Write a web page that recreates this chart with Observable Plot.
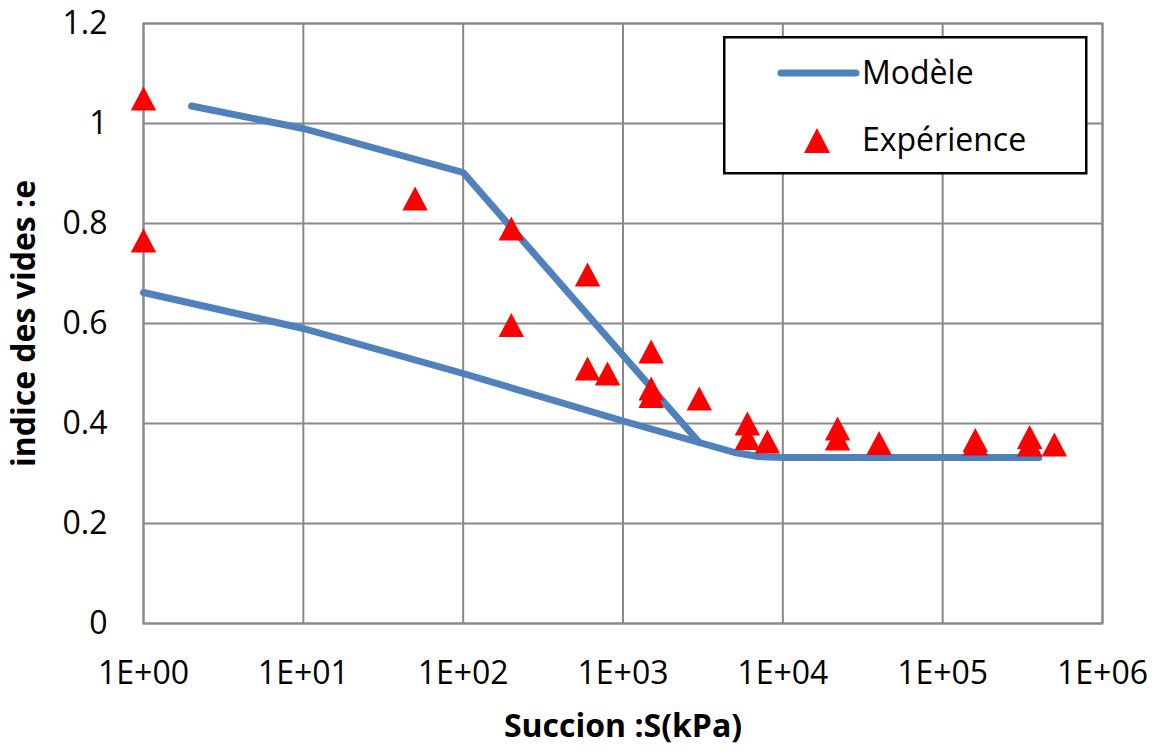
<!DOCTYPE html>
<html><head><meta charset="utf-8">
<script src="https://cdn.jsdelivr.net/npm/d3@7"></script>
<script src="https://cdn.jsdelivr.net/npm/@observablehq/plot@0.6"></script>
<style>
body{margin:0;background:#fff;}
#wrap{position:relative;width:1158px;height:751px;background:#fff;}
g[aria-label="x-axis label"] text, g[aria-label="y-axis label"] text{font-weight:bold;}
#legend{position:absolute;left:723px;top:36px;}
</style></head>
<body><div id="wrap"></div>
<script>
// Model (Modèle) – two branches
const modelUpperS = [2, 10, 100, 3000];
const modelUpperE = [1.035, 0.99, 0.902, 0.362];
const modelLowerS = [1, 10, 100, 1000, 3000, 5000, 7000, 10000, 400000];
const modelLowerE = [0.662, 0.59, 0.50, 0.405, 0.362, 0.342, 0.334, 0.332, 0.332];
// Experiment (Expérience)
const expS = [1, 1, 50, 200, 200, 600, 600, 800, 1500, 1500, 1500, 3000, 6000, 6000, 8000, 22000, 22000, 40000, 160000, 160000, 350000, 350000, 500000];
const expE = [1.05, 0.766, 0.85, 0.79, 0.597, 0.698, 0.51, 0.50, 0.544, 0.47, 0.455, 0.45, 0.40, 0.371, 0.364, 0.39, 0.37, 0.361, 0.367, 0.36, 0.373, 0.358, 0.358];
// Ticks
const xTicks = [1, 10, 100, 1000, 10000, 100000, 1000000];
const yTicks = [0, 0.2, 0.4, 0.6, 0.8, 1, 1.2];
const seriesNames = ["Modèle", "Expérience"];

const modelData = [
  ...modelUpperS.map((s, i) => ({S: s, e: modelUpperE[i], branch: "upper"})),
  ...modelLowerS.map((s, i) => ({S: s, e: modelLowerE[i], branch: "lower"}))
];
const expData = expS.map((s, i) => ({S: s, e: expE[i]}));

const tri = {
  draw(ctx, size) {
    const h = 2.4 * Math.sqrt(size / Math.PI);
    const w = h * 1.06;
    ctx.moveTo(0, -h / 2);
    ctx.lineTo(w / 2, h / 2);
    ctx.lineTo(-w / 2, h / 2);
    ctx.closePath();
  }
};

const blue = "#4F81BD";
const grid = "#898989";

const chart = Plot.plot({
  width: 1158,
  height: 751,
  marginLeft: 143,
  marginTop: 23,
  marginRight: 56,
  marginBottom: 128,
  style: {fontFamily: "'Open Sans', sans-serif", fontSize: "32px", color: "#000", background: "#fff"},
  x: {type: "log", domain: [1, 1e6]},
  y: {domain: [0, 1.2]},
  marks: [
    Plot.gridX(xTicks, {stroke: grid, strokeOpacity: 1, strokeWidth: 2}),
    Plot.gridY(yTicks, {stroke: grid, strokeOpacity: 1, strokeWidth: 2}),
    Plot.frame({stroke: grid, strokeWidth: 2}),
    Plot.axisX(xTicks, {
      tickSize: 0, tickPadding: 38,
      tickFormat: d => "1E+" + String(Math.round(Math.log10(d))).padStart(2, "0"),
      label: "Succion :S(kPa)", labelAnchor: "center", labelArrow: "none", labelOffset: 113
    }),
    Plot.axisY(yTicks, {
      tickSize: 0, tickPadding: 36,
      tickFormat: d => String(d),
      label: "indice des vides :e", labelAnchor: "center", labelArrow: "none", labelOffset: 131
    }),
    Plot.line(modelData, {x: "S", y: "e", z: "branch", stroke: blue, strokeWidth: 7, strokeLinecap: "round", strokeLinejoin: "round"}),
    Plot.dot(expData, {x: "S", y: "e", symbol: tri, r: 10, fill: "#FF0000", stroke: "none"})
  ]
});
const wrap = document.getElementById("wrap");
wrap.appendChild(chart);

// Legend
const lg = d3.select(wrap).append("svg").attr("id", "legend").attr("width", 366).attr("height", 140)
  .style("font-family", "'Open Sans', sans-serif").style("font-size", "32px");
lg.append("rect").attr("x", 1.25).attr("y", 1.25).attr("width", 362).attr("height", 136)
  .attr("fill", "#fff").attr("stroke", "#000").attr("stroke-width", 2.5);
lg.append("line").attr("x1", 58).attr("x2", 133).attr("y1", 37).attr("y2", 37)
  .attr("stroke", blue).attr("stroke-width", 7).attr("stroke-linecap", "round");
lg.append("text").attr("x", 139).attr("y", 37).attr("dy", "0.35em").text(seriesNames[0]);
lg.append("path").attr("d", "M94,92L107,117L81,117Z").attr("fill", "#FF0000");
lg.append("text").attr("x", 139).attr("y", 104).attr("dy", "0.35em").text(seriesNames[1]);
</script>
</body></html>
